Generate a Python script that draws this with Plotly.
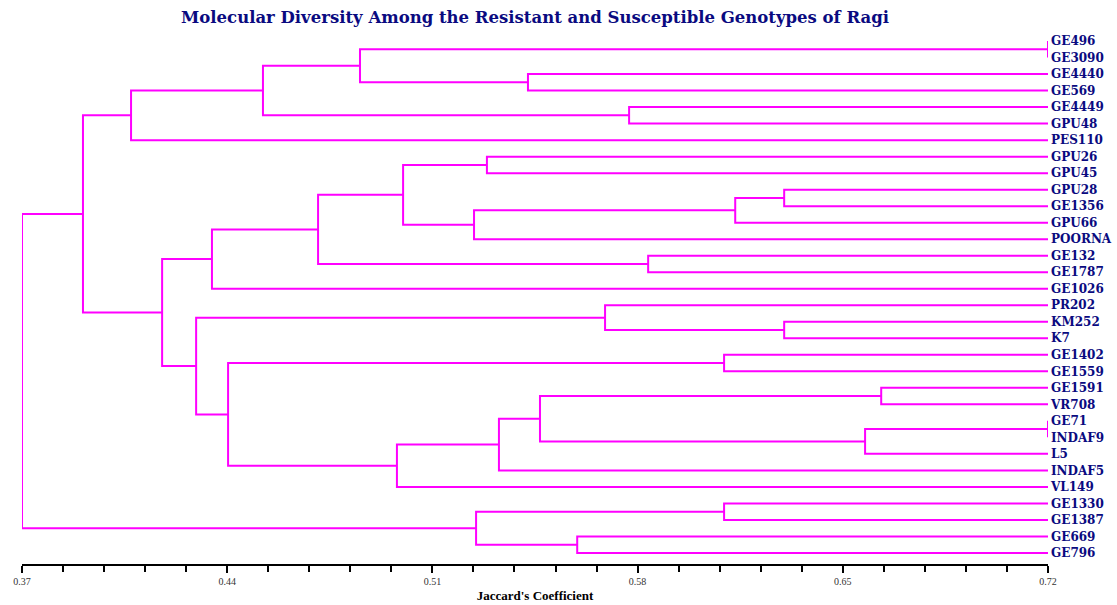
import plotly.graph_objects as go

# Leaf labels (top to bottom)
leaves = ["GE496", "GE3090", "GE4440", "GE569", "GE4449", "GPU48", "PES110",
          "GPU26", "GPU45", "GPU28", "GE1356", "GPU66", "POORNA", "GE132",
          "GE1787", "GE1026", "PR202", "KM252", "K7", "GE1402", "GE1559",
          "GE1591", "VR708", "GE71", "INDAF9", "L5", "INDAF5", "VL149",
          "GE1330", "GE1387", "GE669", "GE796"]

# Linkage: node ids 0..31 are leaves, new nodes numbered from 32 in order
merge_a = [0, 2, 32, 4, 34, 36, 7, 9, 39, 40, 38, 13, 42, 44, 17, 16, 19, 21, 23, 50, 49, 52, 53, 48, 47, 45, 37, 28, 30, 59, 58]
merge_b = [1, 3, 33, 5, 35, 6, 8, 10, 11, 12, 41, 14, 43, 15, 18, 46, 20, 22, 24, 25, 51, 26, 27, 54, 55, 56, 57, 29, 31, 60, 61]
merge_h = [0.72, 0.5426, 0.4853, 0.5771, 0.4522, 0.4072, 0.5286, 0.630, 0.6133, 0.5242,
           0.500, 0.5836, 0.471, 0.4348, 0.630, 0.5689, 0.6095, 0.6631, 0.72, 0.6576,
           0.5467, 0.5327, 0.4979, 0.4403, 0.4294, 0.4178, 0.3908, 0.6095, 0.5594, 0.5249, 0.37]

x_min, x_max = 0.37, 0.72
major_ticks = [0.37, 0.44, 0.51, 0.58, 0.65, 0.72]

n = len(leaves)
pos_x = {i: x_max for i in range(n)}
pos_y = {i: float(i) for i in range(n)}

xs, ys = [], []
for k, (a, b, h) in enumerate(zip(merge_a, merge_b, merge_h)):
    node = n + k
    xs += [pos_x[a], h, h, pos_x[b], None]
    ys += [pos_y[a], pos_y[a], pos_y[b], pos_y[b], None]
    pos_x[node] = h
    pos_y[node] = (pos_y[a] + pos_y[b]) / 2

fig = go.Figure()
fig.add_trace(go.Scatter(x=xs, y=ys, mode="lines",
                         line=dict(color="#FF00FF", width=2),
                         cliponaxis=False, hoverinfo="skip", showlegend=False))

fig.update_layout(
    width=1117, height=605,
    margin=dict(l=22, r=69, t=30, b=41, autoexpand=False),
    paper_bgcolor="white", plot_bgcolor="white",
    title=dict(text="Molecular Diversity Among the Resistant and Susceptible Genotypes of Ragi",
               x=0.479, xanchor="center", y=0.971, yanchor="middle",
               font=dict(family="DejaVu Serif", size=16.5, color="#0a0a80", weight="bold")),
    xaxis=dict(range=[x_min, x_max], tickvals=major_ticks, automargin=False,
               ticktext=[f"{v:.2f}" for v in major_ticks],
               showgrid=False, zeroline=False,
               showline=True, linecolor="black", linewidth=2,
               ticks="outside", ticklen=7, tickwidth=2, tickcolor="black",
               minor=dict(dtick=0.014, tick0=0.37, ticks="outside", ticklen=6,
                          tickwidth=1.5, tickcolor="black", showgrid=False),
               tickfont=dict(family="Liberation Serif", size=10, color="#333333"),
               title=dict(text="<b>Jaccard's Coefficient</b>", standoff=5,
                          font=dict(family="Liberation Serif", size=13, color="black"))),
    yaxis=dict(range=[31.67, -0.67], side="right", automargin=False,
               tickvals=list(range(n)), ticktext=leaves,
               showgrid=False, zeroline=False, showline=False, ticks="",
               ticklabelstandoff=2,
               tickfont=dict(family="DejaVu Serif", size=12, color="#0a0a80", weight="bold")),
)

fig.write_html("out.html", config={"displayModeBar": False},
               post_script="document.body.style.margin='0';document.body.style.overflow='hidden';")
